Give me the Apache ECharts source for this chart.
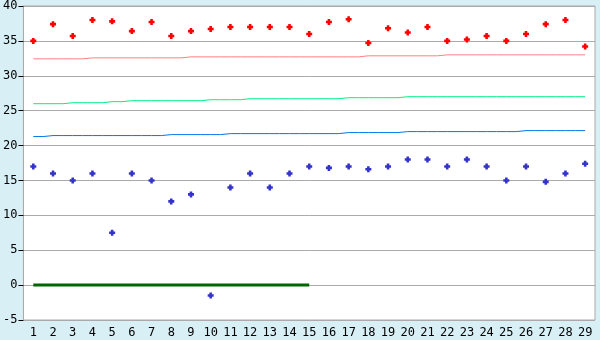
<!DOCTYPE html>
<html><head><meta charset="utf-8">
<script src="https://cdn.jsdelivr.net/npm/echarts@6/dist/echarts.min.js"></script>
<style>html,body{margin:0;padding:0;background:#d9eff6;}#c{width:600px;height:340px;}</style>
</head><body><div id="c"></div>
<script>
const categories = ['1','2','3','4','5','6','7','8','9','10','11','12','13','14','15','16','17','18','19','20','21','22','23','24','25','26','27','28','29'];
const redPoints = [35.0,37.4,35.7,38.0,37.8,36.4,37.7,35.7,36.4,36.7,37.0,37.0,37.0,37.0,36.0,37.7,38.1,34.7,36.8,36.2,37.0,35.0,35.2,35.7,35.0,36.0,37.4,38.0,34.2];
const bluePoints = [17,16,15,16,7.5,16,15,12,13,-1.5,14,16,14,16,17,16.8,17,16.6,17,18,18,17,18,17,15,17,14.8,16,17.4];
const redLine = [32.43,32.43,32.43,32.57,32.57,32.57,32.57,32.57,32.71,32.71,32.71,32.71,32.71,32.71,32.71,32.71,32.71,32.86,32.86,32.86,32.86,33.0,33.0,33.0,33.0,33.0,33.0,33.0,33.0];
const greenLine = [26.0,26.0,26.14,26.14,26.29,26.43,26.43,26.43,26.43,26.57,26.57,26.71,26.71,26.71,26.71,26.71,26.86,26.86,26.86,27.0,27.0,27.0,27.0,27.0,27.0,27.0,27.0,27.0,27.0];
const blueLine = [21.29,21.43,21.43,21.43,21.43,21.43,21.43,21.57,21.57,21.57,21.71,21.71,21.71,21.71,21.71,21.71,21.86,21.86,21.86,22.0,22.0,22.0,22.0,22.0,22.0,22.14,22.14,22.14,22.14];
const zeroLine = [0,0,0,0,0,0,0,0,0,0,0,0,0,0,0];
const yTicks = {min:-5, max:40, interval:5};

const marker = 'path://M2,0H5V2H7V5H5V7H2V5H0V2H2Z';
const chart = echarts.init(document.getElementById('c'));
const font = {fontFamily:'DejaVu Sans Mono', fontSize:12, color:'#000'};
chart.setOption({
  animation:false,
  backgroundColor:'#d9eff6',
  grid:{left:20,right:5,top:5,bottom:20,show:true,backgroundColor:'#fff',borderColor:'#aaa',borderWidth:1},
  xAxis:{type:'category',data:categories,boundaryGap:true,
    axisLine:{lineStyle:{color:'#aaa'}},
    axisTick:{alignWithLabel:true,length:5,lineStyle:{color:'#000'}},
    axisLabel:Object.assign({margin:7,interval:0},font),
    splitLine:{show:false}},
  yAxis:{type:'value',min:yTicks.min,max:yTicks.max,interval:yTicks.interval,
    axisLine:{show:true,lineStyle:{color:'#aaa'}},
    axisTick:{show:true,length:5,lineStyle:{color:'#000'}},
    axisLabel:Object.assign({margin:6},font),
    splitLine:{lineStyle:{color:'#aaa'}}},
  series:[
    {type:'line',data:redLine,step:'middle',showSymbol:false,lineStyle:{color:'#ff8080',width:1}},
    {type:'line',data:greenLine,step:'middle',showSymbol:false,lineStyle:{color:'#00f080',width:1}},
    {type:'line',data:blueLine,step:'middle',showSymbol:false,lineStyle:{color:'#0077e6',width:1}},
    {type:'line',data:zeroLine,showSymbol:false,lineStyle:{color:'#006600',width:3}},
    {type:'scatter',data:redPoints,symbol:marker,symbolSize:6,itemStyle:{color:'#ff0000',opacity:1}},
    {type:'scatter',data:bluePoints,symbol:marker,symbolSize:6,itemStyle:{color:'#3333cc',opacity:1}}
  ]
});
</script></body></html>
